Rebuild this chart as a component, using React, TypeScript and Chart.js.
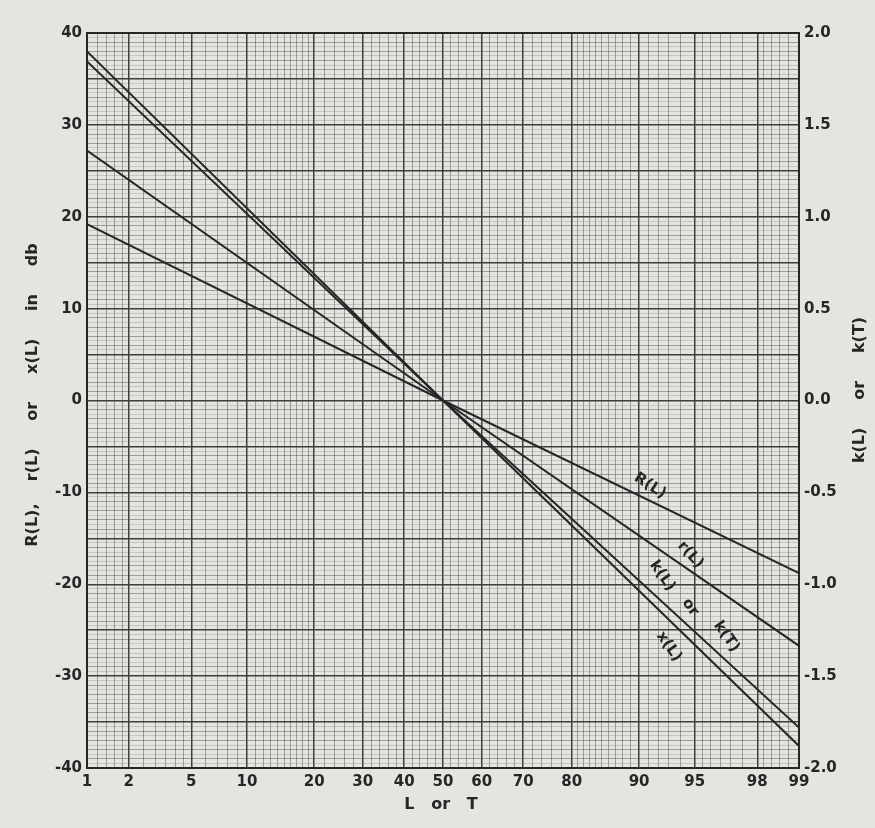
import React, { useEffect, useRef } from "react";
import { Chart, registerables } from "chart.js";
Chart.register(...registerables);

// L (percent) at which the straight lines are read
const L_POINTS = [1, 50, 99];
// series values in db
const X_L = [38.0, 0, -37.6];
const K_L = [36.9, 0, -35.6];
const SMALL_R_L = [27.2, 0, -26.7];
const R_L = [19.2, 0, -18.8];

const SERIES_NAMES = ["x(L)", "k(L) or k(T)", "r(L)", "R(L)"];

// labelled probability ticks
const X_MAJOR = [1, 2, 5, 10, 20, 30, 40, 50, 60, 70, 80, 90, 95, 98, 99];
// extra probability-paper rulings
const X_MINOR = [
  1.2, 1.4, 1.6, 1.8, 2.5, 3, 3.5, 4, 4.5, 6, 7, 8, 9,
  11, 12, 13, 14, 15, 16, 17, 18, 19,
  22, 24, 26, 28, 32, 34, 36, 38, 42, 44, 46, 48,
  52, 54, 56, 58, 62, 64, 66, 68, 72, 74, 76, 78,
  81, 82, 83, 84, 85, 86, 87, 88, 89, 91, 92, 93, 94,
  95.5, 96, 96.5, 97, 97.5, 98.2, 98.4, 98.6, 98.8,
];
const Y_LABEL_STEP = 10;
const Y2_TICKS = [-2.0, -1.5, -1.0, -0.5, 0.0, 0.5, 1.0, 1.5, 2.0];

// text written along the lines: [text, L, value(db), angle deg]
const CURVE_LABELS: [string, number, number, number][] = [
  ["R(L)", 91.2, -9.3, 33],
  ["r(L)", 94.7, -16.8, 48],
  ["k(L)", 92.4, -19.1, 55],
  ["or", 94.7, -22.5, 55],
  ["k(T)", 96.8, -25.7, 55],
  ["x(L)", 93.0, -26.8, 55],
];

const PAPER = "#e4e4e0";
const INK = "#262626";
const FONT = "'DejaVu Sans', sans-serif";

function probit(p: number): number {
  const a = [-3.969683028665376e1, 2.209460984245205e2, -2.759285104469687e2, 1.38357751867269e2, -3.066479806614716e1, 2.506628277459239];
  const b = [-5.447609879822406e1, 1.615858368580409e2, -1.556989798598866e2, 6.680131188771972e1, -1.328068155288572e1];
  const c = [-7.784894002430293e-3, -3.223964580411365e-1, -2.400758277161838, -2.549732539343734, 4.374664141464968, 2.938163982698783];
  const d = [7.784695709041462e-3, 3.224671290700398e-1, 2.445134137142996, 3.754408661907416];
  const plow = 0.02425;
  if (p < plow) {
    const q = Math.sqrt(-2 * Math.log(p));
    return (((((c[0] * q + c[1]) * q + c[2]) * q + c[3]) * q + c[4]) * q + c[5]) / ((((d[0] * q + d[1]) * q + d[2]) * q + d[3]) * q + 1);
  }
  if (p <= 1 - plow) {
    const q = p - 0.5;
    const r = q * q;
    return ((((((a[0] * r + a[1]) * r + a[2]) * r + a[3]) * r + a[4]) * r + a[5]) * q) / (((((b[0] * r + b[1]) * r + b[2]) * r + b[3]) * r + b[4]) * r + 1);
  }
  const q = Math.sqrt(-2 * Math.log(1 - p));
  return -(((((c[0] * q + c[1]) * q + c[2]) * q + c[3]) * q + c[4]) * q + c[5]) / ((((d[0] * q + d[1]) * q + d[2]) * q + d[3]) * q + 1);
}

const xTicks = [
  ...X_MAJOR.map((p) => ({ value: probit(p / 100), kind: "major", label: String(p) })),
  ...X_MINOR.map((p) => ({ value: probit(p / 100), kind: "minor", label: "" })),
].sort((u, v) => u.value - v.value);

const yTicks: { value: number; kind: string }[] = [];
for (let i = -80; i <= 80; i++) {
  const v = i / 2;
  yTicks.push({ value: v, kind: v % 5 === 0 ? "major" : Number.isInteger(v) ? "minor" : "fine" });
}

export default function App() {
  const ref = useRef<HTMLCanvasElement>(null);
  useEffect(() => {
    document.body.style.margin = "0";
    document.body.style.background = PAPER;
    const mk = (vals: number[]) => L_POINTS.map((L, i) => ({ x: probit(L / 100), y: vals[i] }));
    const series = [X_L, K_L, SMALL_R_L, R_L];

    const paper = {
      id: "paper",
      beforeDraw(chart: any) {
        const c = chart.ctx;
        c.save();
        c.fillStyle = PAPER;
        c.fillRect(0, 0, chart.width, chart.height);
        c.restore();
      },
      afterDatasetsDraw(chart: any) {
        const c = chart.ctx;
        const xs = chart.scales.x;
        const ys = chart.scales.y;
        c.save();
        c.fillStyle = INK;
        c.font = `bold 15px ${FONT}`;
        c.textAlign = "center";
        c.textBaseline = "middle";
        for (const [t, L, v, ang] of CURVE_LABELS) {
          const px = xs.getPixelForValue(probit(L / 100));
          const py = ys.getPixelForValue(v);
          c.save();
          c.translate(px, py);
          c.rotate((ang * Math.PI) / 180);
          c.fillText(t, 0, 0);
          c.restore();
        }
        c.restore();
      },
      afterDraw(chart: any) {
        const c = chart.ctx;
        c.save();
        c.fillStyle = INK;
        c.font = `bold 16px ${FONT}`;
        c.textAlign = "center";
        c.textBaseline = "middle";
        c.save();
        c.translate(33, 395);
        c.rotate(-Math.PI / 2);
        c.fillText("R(L),    r(L)     or     x(L)     in     db", 0, 0);
        c.restore();
        c.save();
        c.translate(860, 390);
        c.rotate(-Math.PI / 2);
        c.fillText("k(L)     or     k(T)", 0, 0);
        c.restore();
        c.fillText("L   or   T", 441, 805);
        c.restore();
      },
    };

    const chart = new Chart(ref.current!, {
      type: "line",
      data: {
        datasets: series.map((s, i) => ({
          label: SERIES_NAMES[i],
          data: mk(s),
          borderColor: INK,
          borderWidth: 2,
          pointRadius: 0,
          tension: 0,
          yAxisID: "y",
        })),
      },
      options: {
        responsive: false,
        animation: false,
        layout: { padding: { top: 33, left: 0, right: 0, bottom: 0 } },
        plugins: { legend: { display: false }, tooltip: { enabled: false } },
        scales: {
          x: {
            type: "linear",
            min: probit(0.01),
            max: probit(0.99),
            afterBuildTicks: (s: any) => {
              s.ticks = xTicks.map((t) => ({ ...t }));
            },
            afterFit: (s: any) => {
              s.height = 60;
            },
            ticks: {
              autoSkip: false,
              maxRotation: 0,
              minRotation: 0,
              padding: 5,
              color: INK,
              font: { family: FONT, size: 15, weight: "bold" },
              callback: (_v: any, i: number) => xTicks[i].label,
            },
            grid: {
              drawTicks: false,
              color: (ctx: any) => (ctx.tick && ctx.tick.kind === "major" ? "#3e3e3e" : "rgba(70,70,70,0.45)"),
              lineWidth: (ctx: any) => (ctx.tick && ctx.tick.kind === "major" ? 1.5 : 1),
            },
            border: { display: true, color: INK, width: 2 },
          },
          y: {
            type: "linear",
            position: "left",
            min: -40,
            max: 40,
            afterBuildTicks: (s: any) => {
              s.ticks = yTicks.map((t) => ({ ...t }));
            },
            afterFit: (s: any) => {
              s.width = 87;
            },
            ticks: {
              autoSkip: false,
              padding: 5,
              color: INK,
              font: { family: FONT, size: 15, weight: "bold" },
              callback: (v: any) => (v % Y_LABEL_STEP === 0 ? String(v) : ""),
            },
            grid: {
              drawTicks: false,
              color: (ctx: any) => {
                const k = ctx.tick && ctx.tick.kind;
                if (ctx.tick && Math.abs(ctx.tick.value) === 40) return INK;
                return k === "major" ? "#3e3e3e" : k === "minor" ? "rgba(70,70,70,0.45)" : "rgba(80,80,80,0.2)";
              },
              lineWidth: (ctx: any) => {
                const k = ctx.tick && ctx.tick.kind;
                if (ctx.tick && Math.abs(ctx.tick.value) === 40) return 2;
                return k === "major" ? 1.5 : 1;
              },
            },
            border: { display: true, color: INK, width: 2 },
          },
          y2: {
            type: "linear",
            position: "right",
            min: -2,
            max: 2,
            afterBuildTicks: (s: any) => {
              s.ticks = Y2_TICKS.map((v) => ({ value: v }));
            },
            afterFit: (s: any) => {
              s.width = 76;
            },
            ticks: {
              autoSkip: false,
              padding: 5,
              color: INK,
              font: { family: FONT, size: 15, weight: "bold" },
              callback: (v: any) => Number(v).toFixed(1),
            },
            grid: { display: false, drawTicks: false },
            border: { display: true, color: INK, width: 2 },
          },
        },
      } as any,
      plugins: [paper],
    });
    return () => chart.destroy();
  }, []);
  return (
    <div style={{ width: 875, height: 828 }}>
      <canvas ref={ref} width={875} height={828} style={{ display: "block" }} />
    </div>
  );
}
